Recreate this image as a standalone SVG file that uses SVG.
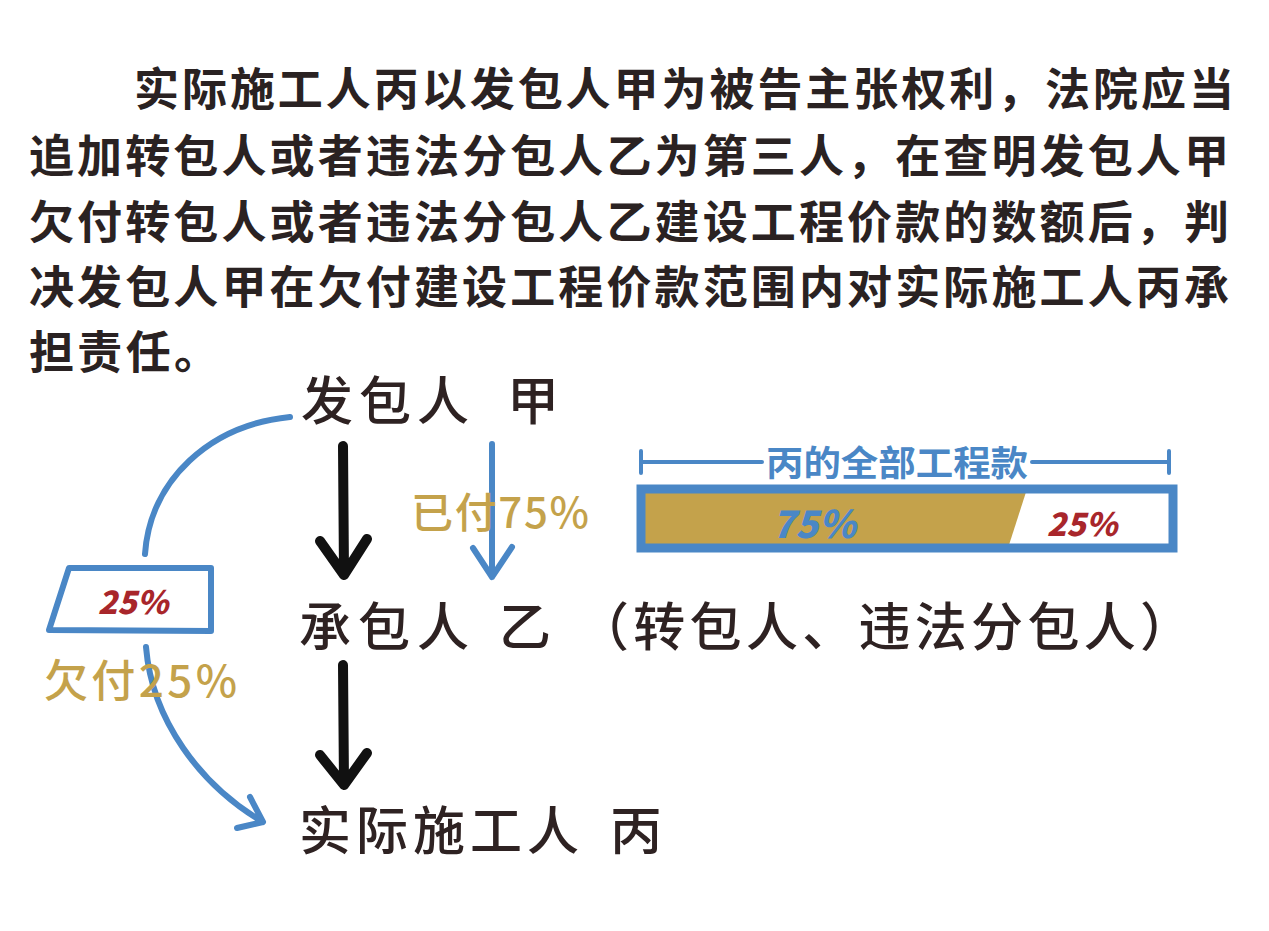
<svg xmlns="http://www.w3.org/2000/svg" width="1269" height="931" viewBox="0 0 1269 931">
<style>
.para{font-family:"Noto Sans CJK SC","Noto Sans",sans-serif;font-size:45px;font-weight:700;fill:#2a2222}
.lbl{font-family:"Noto Sans CJK SC","Noto Sans",sans-serif;font-size:52px;font-weight:500;fill:#2e2222}
.gold{font-family:"Noto Sans CJK SC","Noto Sans",sans-serif;font-weight:500;fill:#c4a24b}
.hand{font-family:"Noto Sans CJK SC","Noto Sans",sans-serif;font-weight:900;font-style:italic}
.title{font-family:"Noto Sans CJK SC","Noto Sans",sans-serif;font-weight:700;font-style:normal}
.blk{fill:none;stroke:#111;stroke-width:10;stroke-linecap:round;stroke-linejoin:round}
.blu{fill:none;stroke:#4a87c6;stroke-width:6;stroke-linecap:round;stroke-linejoin:round}
</style>
<rect width="1269" height="931" fill="#ffffff"/>
<g id="paragraph">
<text class="para" x="134" y="106" textLength="1100" lengthAdjust="spacing">实际施工人丙以发包人甲为被告主张权利，法院应当</text>
<text class="para" x="29" y="173" textLength="1200" lengthAdjust="spacing">追加转包人或者违法分包人乙为第三人，在查明发包人甲</text>
<text class="para" x="29" y="239" textLength="1200" lengthAdjust="spacing">欠付转包人或者违法分包人乙建设工程价款的数额后，判</text>
<text class="para" x="29" y="304" textLength="1200" lengthAdjust="spacing">决发包人甲在欠付建设工程价款范围内对实际施工人丙承</text>
<text class="para" x="29" y="369" textLength="190" lengthAdjust="spacing">担责任。</text>
</g>
<g id="node-jia">
<text class="lbl" x="301" y="420" textLength="168" lengthAdjust="spacing">发包人</text>
<text class="lbl" x="507" y="420">甲</text>
</g>
<g id="node-yi">
<text class="lbl" x="299" y="646" textLength="170" lengthAdjust="spacing">承包人</text>
<text class="lbl" x="499" y="646">乙</text>
<text class="lbl" x="577" y="646" textLength="615" lengthAdjust="spacing">（转包人、违法分包人）</text>
</g>
<g id="node-bing">
<text class="lbl" x="299" y="850" textLength="280" lengthAdjust="spacing">实际施工人</text>
<text class="lbl" x="610" y="850">丙</text>
</g>
<g id="connectors">
<path class="blk" d="M343,446 L344,575 M320,541 L344,575 L367,539"/>
<path class="blk" d="M343,665 L344,785 M320,755 L344,785 L367,753"/>
<path class="blu" d="M492,444 L492,577 M473,548 L492,577 L512,547"/>
<path class="blu" d="M290,417 C210,425 150,480 145,554"/>
<path class="blu" d="M146,647 C152,720 200,785 263,822 M250,797 L263,822 L237,828"/>
</g>
<g id="label-paid">
<text class="gold" x="411" y="528" font-size="42" textLength="178" lengthAdjust="spacing">已付75%</text>
</g>
<g id="label-owed">
<g id="owed-box">
<path d="M69,568 L211,568 L211,631 L49,630 Z" fill="#ffffff" stroke="#4a87c6" stroke-width="6" stroke-linejoin="round"/>
<text class="hand" x="133" y="614" font-size="32" fill="#a8262b" text-anchor="middle">25%</text>
</g>
<text class="gold" x="44" y="697" font-size="44" textLength="193" lengthAdjust="spacing">欠付25%</text>
</g>
<g id="bar">
<path d="M641,462 L762,462 M1032,462 L1169,462 M641,451 L641,473 M1169,451 L1169,473" fill="none" stroke="#4a87c6" stroke-width="4" stroke-linecap="round"/>
<text class="title" x="897" y="476" font-size="35" fill="#4a87c6" text-anchor="middle" textLength="262" lengthAdjust="spacingAndGlyphs">丙的全部工程款</text>
<rect x="641" y="489" width="532" height="59" fill="#ffffff"/>
<path d="M641,489 L1027,489 L1008,548 L641,548 Z" fill="#c4a24b"/>
<rect x="641" y="489" width="532" height="59" fill="none" stroke="#4a87c6" stroke-width="9"/>
<text class="hand" x="814" y="538" font-size="38" fill="#4a87c6" text-anchor="middle">75%</text>
<text class="hand" x="1082" y="536" font-size="32" fill="#a8262b" text-anchor="middle">25%</text>
</g>
</svg>
